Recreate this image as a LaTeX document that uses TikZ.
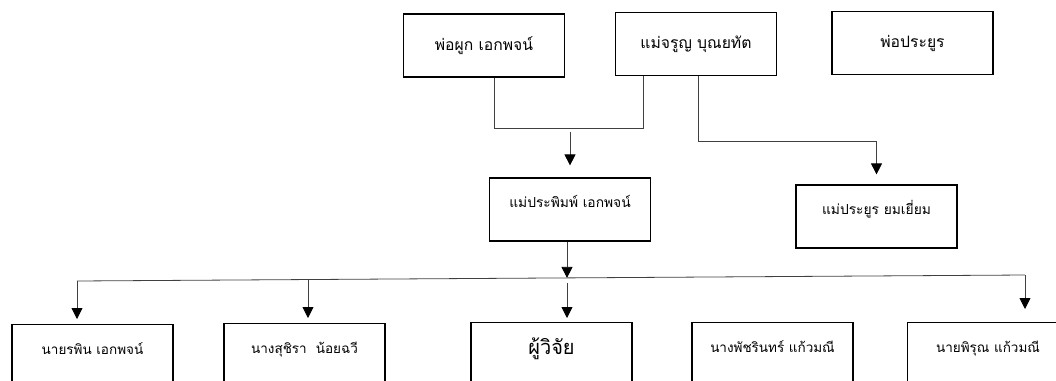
\documentclass[tikz,border=0pt]{standalone}
\usepackage{fontspec}
\newfontfamily\thaifont[Script=Thai]{Loma}
\usetikzlibrary{arrows.meta}

\begin{document}
\begin{tikzpicture}[x=1pt,y=-1pt,>={Triangle[width=11pt,length=11pt,color=black]},
  fambox/.style={draw,line width=1.2pt,minimum width=161pt,inner sep=0pt,font=\thaifont\fontsize{15.7}{18}\selectfont},
  parentbox/.style={fambox,text height=36pt,text depth=27pt},
  midbox/.style={fambox,text height=29pt,text depth=34pt,font=\thaifont\fontsize{13.8}{16}\selectfont},
  kidbox/.style={fambox,anchor=north,text height=30pt,text depth=60pt,font=\thaifont\fontsize{13.5}{16}\selectfont},
  link/.style={line width=0.8pt,black!75}]
\useasboundingbox (0,0) rectangle (1056,380);
\clip (0,0) rectangle (1056,380);

\node[parentbox] (pook) at (484,45.5) {พ่อผูก เอกพจน์};
\node[parentbox] (jaroon) at (696,44) {แม่จรูญ บุณยทัต};
\node[parentbox] (prayoon) at (912.5,43) {พ่อประยูร};
\node[midbox] (pim) at (570,209.5) {แม่ประพิมพ์ เอกพจน์};
\node[midbox] (prayoonmom) at (876.5,216.5) {แม่ประยูร ยมเยี่ยม};
\node[kidbox] (rapin) at (92.5,324) {นายรพิน เอกพจน์};
\node[kidbox] (suchira) at (304.5,323) {นางสุชิรา\ \ น้อยฉวี};
\node[kidbox,text height=32pt,font=\thaifont\fontsize{20}{22}\selectfont] (me) at (551.5,322) {ผู้วิจัย};
\node[kidbox] (patcharin) at (772.5,322) {นางพัชรินทร์ แก้วมณี};
\node[kidbox] (pirun) at (988,322) {นายพิรุณ แก้วมณี};

\coordinate (pj) at (570,132);
\coordinate (sa) at (77,281);
\coordinate (sb) at (308,279.5);
\coordinate (sc) at (567,277.9);
\coordinate (sd) at (1025,275);

\draw[link] ([xshift=10pt]pook.south) -- (494,128) -| ([xshift=-53pt]jaroon.south);
\draw[link,->] (pj) -- ([yshift=12pt]pim.north);
\draw[link,->] ([xshift=2pt]jaroon.south) -- (698,141) -| ([yshift=10pt]prayoonmom.north);
\draw[link] (sa) -- (sd);
\draw[link,->] ([xshift=-3pt]pim.south) -- (sc);
\draw[link,->] (sa) -- ([yshift=5pt]rapin.north -| sa);
\draw[link,->] (sb) -- ([yshift=5pt]suchira.north -| sb);
\draw[link,->] ([yshift=-5pt]sc) -- ([yshift=4pt]me.north -| sc);
\draw[link,->] (sd) -- ([yshift=13pt]pirun.north -| sd);
\end{tikzpicture}
\end{document}
